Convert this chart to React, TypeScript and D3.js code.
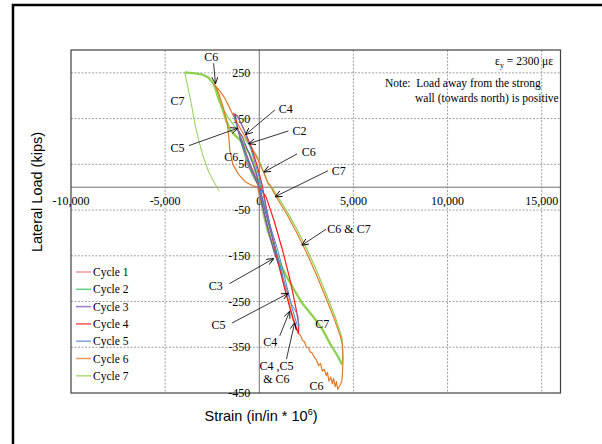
import React from "react"
import * as d3 from "d3"

type Pt = [number, number]

// strain (in/in * 1e6), lateral load (kips)
const cycle1: Pt[] = [
  [0, 0], [-250, 18], [-550, 42], [-750, 62], [-550, 55], [-250, 30], [0, 5],
  [150, -40], [400, -85], [700, -125], [950, -150], [900, -140], [650, -100], [350, -55], [100, -15], [0, 0],
]
const cycle2: Pt[] = [
  [0, 0], [-350, 25], [-700, 60], [-950, 95], [-1050, 110], [-850, 100], [-550, 75], [-250, 40], [50, 5],
  [200, -45], [550, -105], [950, -160], [1250, -195], [1200, -185], [950, -145], [550, -90], [200, -30], [0, 0],
]
const cycle3: Pt[] = [
  [0, 0], [-450, 40], [-850, 85], [-1150, 125], [-950, 115], [-550, 75], [-150, 30],
  [100, -30], [450, -90], [800, -145], [1050, -170], [1000, -160], [700, -110], [300, -50], [0, 0],
]
const cycle4: Pt[] = [
  [0, 0], [-350, 35], [-800, 85], [-1150, 130], [-1306, 160], [-1150, 155], [-800, 125], [-400, 85], [-100, 45],
  [150, 5], [350, -40], [650, -100], [1000, -165], [1400, -230], [1800, -290], [2080, -320], [2100, -300],
  [1950, -265], [1650, -205], [1250, -140], [800, -75], [350, -20], [0, 0],
]
const cycle5: Pt[] = [
  [0, 0], [-400, 40], [-850, 90], [-1200, 135], [-1380, 162], [-1200, 158], [-850, 130], [-500, 90], [-200, 50],
  [50, 15], [250, -25], [600, -90], [950, -150], [1350, -210], [1700, -255], [2050, -280], [2090, -305],
  [2000, -300], [1750, -265], [1400, -205], [1000, -140], [550, -80], [200, -30], [0, 0],
]
const cycle6: Pt[] = [
  [0, 0], [-350, 3], [-750, 12], [-1100, 28], [-1400, 50], [-1560, 80], [-1620, 110], [-1700, 140],
  [-1900, 172], [-2150, 205], [-2300, 218], [-2400, 226], [-2250, 218], [-2050, 208], [-1850, 196],
  [-1650, 180], [-1450, 163], [-1200, 142], [-950, 124], [-650, 104], [-350, 82], [-100, 62], [100, 44],
  [250, 32], [380, 18], [480, 8], [560, 6], [620, 2], [700, -6], [1000, -28], [1500, -62], [2000, -100],
  [2500, -142], [3000, -188], [3500, -238], [4000, -290], [4300, -325], [4420, -345], [4450, -375],
  [4420, -405], [4380, -425], [4300, -432], [4220, -438], [4165, -442], [4100, -425], [4030, -436],
  [3950, -418], [3880, -430], [3800, -415], [3700, -424], [3620, -405], [3566, -412], [3450, -398],
  [3350, -402], [3250, -385], [3150, -390], [3035, -378], [2900, -370], [2800, -362], [2700, -360],
  [2600, -350], [2504, -350], [2400, -338], [2300, -335], [2200, -325], [2043, -317], [1800, -285],
  [1400, -225], [1000, -165], [600, -110], [250, -55], [0, -15], [-100, 0],
]
const cycle7Loop: Pt[] = [
  [-3950, 251], [-3700, 250], [-3400, 249], [-3000, 246], [-2700, 240], [-2451, 228], [-2300, 212],
  [-2150, 192], [-1958, 172], [-1750, 145], [-1550, 125], [-1300, 114], [-1050, 104], [-800, 90],
  [-530, 74], [-300, 52], [-150, 28], [-20, 0], [100, -30], [250, -62], [450, -95], [700, -125],
  [1000, -158], [1443, -195], [1900, -228], [2300, -255], [2900, -285], [3370, -312], [3800, -345],
  [4150, -368], [4400, -388],
]
const cycle7Reload: Pt[] = [
  [4400, -388], [4430, -365], [4400, -330], [4000, -280], [3500, -228], [3000, -178], [2500, -133],
  [2000, -92], [1500, -55], [1000, -22], [700, -2], [490, 6], [300, 25], [80, 50], [-150, 70],
  [-450, 88], [-750, 104], [-1050, 120], [-1350, 135], [-1650, 152], [-1921, 172], [-2200, 205], [-2451, 228],
]
const cycle7Unload: Pt[] = [
  [-3950, 251], [-3900, 240], [-3794, 219], [-3600, 180], [-3386, 132], [-3200, 100], [-2978, 67],
  [-2700, 35], [-2468, 16], [-2250, 0], [-2122, -9],
]

const legendLabels = ["Cycle 1", "Cycle 2", "Cycle 3", "Cycle 4", "Cycle 5", "Cycle 6", "Cycle 7"]
const cycleColors = ["#f07c7c", "#2ebf60", "#7b4fb8", "#ff1a1a", "#5585d0", "#e07b2c", "#8fd14f"]

const xTicks = [-10000, -5000, 0, 5000, 10000, 15000]
const yTicks = [250, 150, 50, -50, -150, -250, -350, -450]

type Note = { text: string; x: number; y: number; from?: Pt; to?: Pt }
const notes: Note[] = [
  { text: "C6", x: -2547, y: 284, from: [-2425, 271], to: [-2324, 226] },
  { text: "C7", x: -4340, y: 189 },
  { text: "C4", x: 1406, y: 171, from: [833, 169], to: [-732, 115] },
  { text: "C2", x: 2138, y: 123, from: [1549, 123], to: [-568, 95] },
  { text: "C5", x: -4340, y: 86, from: [-3730, 91], to: [-1141, 129] },
  { text: "C6", x: 2627, y: 77, from: [2016, 73], to: [239, 33] },
  { text: "C6", x: -1486, y: 67 },
  { text: "C7", x: 4218, y: 35, from: [3645, 36], to: [833, -21] },
  { text: "C6 & C7", x: 4765, y: -91, from: [3545, -92], to: [2255, -127] },
  { text: "C3", x: -2308, y: -217, from: [-1587, -211], to: [769, -156] },
  { text: "C5", x: -2160, y: -302, from: [-1449, -297], to: [1549, -232] },
  { text: "C7", x: 3343, y: -300 },
  { text: "C4", x: 589, y: -338, from: [1088, -325], to: [1618, -271] },
  { text: "C4 ,C5", x: 913, y: -390, from: [1443, -376], to: [1884, -296] },
  { text: "& C6", x: 913, y: -419 },
  { text: "C6", x: 3035, y: -434 },
]

const serif = "'Liberation Serif', 'Times New Roman', serif"
const sans = "'Liberation Sans', Arial, sans-serif"

export default function App() {
  const width = 602
  const height = 444
  const x = d3.scaleLinear().domain([-10000, 16000]).range([71, 560.5])
  const y = d3.scaleLinear().domain([-450, 300]).range([393, 50])
  const line = d3.line<Pt>().x((d) => x(d[0])).y((d) => y(d[1]))

  // drawn back to front: the big cycles sit under the small ones
  const series = [
    { data: cycle7Reload, color: cycleColors[6], w: 1.2 },
    { data: cycle7Unload, color: cycleColors[6], w: 1 },
    { data: cycle7Loop, color: cycleColors[6], w: 2.3 },
    { data: cycle6, color: cycleColors[5], w: 1.2 },
    { data: cycle1, color: cycleColors[0], w: 1 },
    { data: cycle2, color: cycleColors[1], w: 1 },
    { data: cycle3, color: cycleColors[2], w: 1 },
    { data: cycle4, color: cycleColors[3], w: 1.2 },
    { data: cycle5, color: cycleColors[4], w: 1 },
  ]

  const x0 = x(0)
  const y0 = y(0)
  const [xl, xr] = x.range()
  const [yb, yt] = y.range()

  return (
    <svg width={width} height={height} style={{ position: "absolute", left: 0, top: 0, background: "#fff" }}>
      <defs>
        <marker id="arr" viewBox="0 0 8 8" refX="8" refY="4" markerWidth="7" markerHeight="7" orient="auto" markerUnits="userSpaceOnUse">
          <path d="M0,0.5 L8,4 L0,7.5" fill="none" stroke="#000" strokeWidth="1" />
        </marker>
      </defs>
      <rect x={0} y={0} width={width} height={height} fill="#fff" />
      <rect x={13} y={5} width={620} height={460} fill="none" stroke="#000" strokeWidth={2.5} />

      {/* gridlines */}
      {xTicks.filter((t) => t !== 0 && t !== -10000).map((t) => (
        <line key={"gx" + t} x1={x(t)} x2={x(t)} y1={yt} y2={yb} stroke="#a0a0a0" strokeWidth={1} strokeDasharray="2,1.5" />
      ))}
      {yTicks.filter((t) => t !== -450).map((t) => (
        <line key={"gy" + t} x1={xl} x2={xr} y1={y(t)} y2={y(t)} stroke="#a0a0a0" strokeWidth={1} strokeDasharray="2,1.5" />
      ))}
      <line x1={x0} x2={x0} y1={yt} y2={yb} stroke="#707070" strokeWidth={1} />
      <line x1={xl} x2={xr} y1={y0} y2={y0} stroke="#707070" strokeWidth={1} />
      <rect x={xl} y={yt} width={xr - xl} height={yb - yt} fill="none" stroke="#404040" strokeWidth={1.2} />

      {/* tick labels */}
      {xTicks.map((t) => (
        <text key={"tx" + t} x={x(t)} y={y0 + 18} textAnchor="middle" fontFamily={serif} fontSize={12} fill="#000">
          {d3.format(",")(t).replace("−", "-")}
        </text>
      ))}
      {yTicks.map((t) => (
        <text key={"ty" + t} x={x0 - 9} y={y(t) + 4} textAnchor="end" fontFamily={serif} fontSize={12} fill="#000">
          {d3.format("d")(t).replace("−", "-")}
        </text>
      ))}

      {/* series */}
      {series.map((s, i) => (
        <path key={"s" + i} d={line(s.data) || ""} fill="none" stroke={s.color} strokeWidth={s.w} strokeLinejoin="round" />
      ))}

      {/* annotations */}
      {notes.map((n, i) => (
        <g key={"n" + i}>
          {n.from && n.to && (
            <line x1={x(n.from[0])} y1={y(n.from[1])} x2={x(n.to[0])} y2={y(n.to[1])} stroke="#000" strokeWidth={0.8} markerEnd="url(#arr)" />
          )}
          <text x={x(n.x)} y={y(n.y) + 4} textAnchor="middle" fontFamily={serif} fontSize={12} fill="#000">
            {n.text}
          </text>
        </g>
      ))}

      {/* notes */}
      <text x={553} y={65} textAnchor="end" fontFamily={serif} fontSize={11.5} fill="#000">
        ε<tspan dy={3} fontSize={8}>y</tspan>
        <tspan dy={-3}> = 2300 με</tspan>
      </text>
      <text x={385} y={87} fontFamily={serif} fontSize={11.5} fill="#000" xmlSpace="preserve">
        Note:  Load away from the strong
      </text>
      <text x={415} y={102} fontFamily={serif} fontSize={11.5} fill="#000">
        wall (towards north) is positive
      </text>

      {/* legend */}
      {legendLabels.map((l, i) => (
        <g key={"lg" + i} transform={`translate(76,${272 + i * 17.3})`}>
          <line x1={0} x2={15} y1={0} y2={0} stroke={cycleColors[i]} strokeWidth={1.5} opacity={0.75} />
          <text x={17} y={4} fontFamily={serif} fontSize={11.5} fill="#000">{l}</text>
        </g>
      ))}

      {/* axis titles */}
      <text transform={`translate(42,192) rotate(-90)`} textAnchor="middle" fontFamily={sans} fontSize={14.5} fill="#000">
        Lateral Load (kips)
      </text>
      <text x={261} y={421} textAnchor="middle" fontFamily={sans} fontSize={14.5} fill="#000">
        Strain (in/in * 10<tspan dy={-6} fontSize={9}>6</tspan><tspan dy={6}>)</tspan>
      </text>
    </svg>
  )
}
